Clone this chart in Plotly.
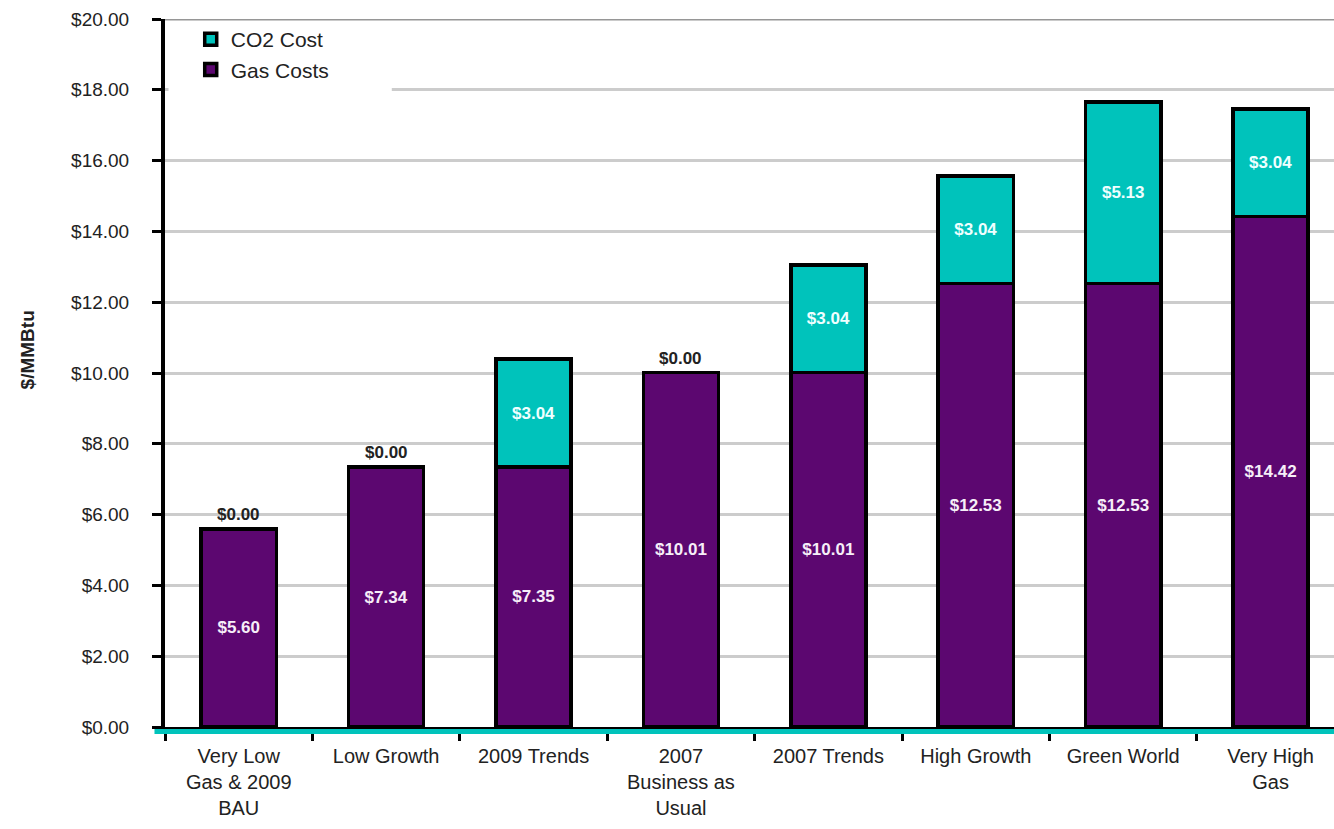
import plotly.graph_objects as go

# Scenario categories (multi-line tick labels)
categories = [
    "Very Low<br>Gas & 2009<br>BAU",
    "Low Growth",
    "2009 Trends",
    "2007<br>Business as<br>Usual",
    "2007 Trends",
    "High Growth",
    "Green World",
    "Very High<br>Gas",
]

# $/MMBtu components
gas_costs = [5.60, 7.34, 7.35, 10.01, 10.01, 12.53, 12.53, 14.42]
co2_costs = [0.00, 0.00, 3.04, 0.00, 3.04, 3.04, 5.13, 3.04]

y_ticks = [0, 2, 4, 6, 8, 10, 12, 14, 16, 18, 20]

PURPLE = "#5C0770"
TEAL = "#00C3BB"
FONT = "Liberation Sans"


def money(v):
    return f"${v:.2f}"


fig = go.Figure()

fig.add_trace(go.Bar(
    name="Gas Costs",
    x=categories,
    y=gas_costs,
    width=0.51,
    marker=dict(color=PURPLE, line=dict(color="black", width=3.5)),
    text=[money(v) for v in gas_costs],
    textposition="inside",
    insidetextanchor="middle",
    textangle=0,
    constraintext="none",
    textfont=dict(family=FONT, size=17, color="#F6EEF8", weight="bold"),
))

fig.add_trace(go.Bar(
    name="CO2 Cost",
    x=categories,
    y=co2_costs,
    width=0.51,
    marker=dict(color=TEAL, line=dict(color="black", width=3.5)),
    text=[money(v) if v > 0 else "" for v in co2_costs],
    textposition="inside",
    insidetextanchor="middle",
    textangle=0,
    constraintext="none",
    textfont=dict(family=FONT, size=17, color="#EFFFFF", weight="bold"),
))

# Zero CO2 cost shown above the bar
annotations = []
for cat, g, c in zip(categories, gas_costs, co2_costs):
    if c == 0:
        annotations.append(dict(
            x=cat, y=g + c, xref="x", yref="y",
            text=money(c), showarrow=False, yanchor="bottom", yshift=3,
            font=dict(family=FONT, size=17, color="#222222", weight="bold"),
        ))

# Vertical axis title
annotations.append(dict(
    x=-0.118, y=0.532, xref="paper", yref="paper", xanchor="center",
    text="$/MMBtu", textangle=-90, showarrow=False,
    font=dict(family=FONT, size=19, color="#222222", weight="bold"),
))

shapes = [
    # white panel behind the legend
    dict(type="rect", xref="paper", yref="y", x0=0.003, x1=0.194, y0=17.5, y1=19.75,
         fillcolor="white", line=dict(width=0), layer="above"),
    # darker top rule
    dict(type="line", xref="paper", yref="y", x0=0, x1=1, y0=20, y1=20,
         line=dict(color="#969696", width=3), layer="above"),
    # teal rule under the category axis
    dict(type="line", xref="paper", yref="paper", x0=-0.009, x1=1, y0=-0.0065, y1=-0.0065,
         line=dict(color=TEAL, width=5), layer="above"),
]

fig.update_layout(
    width=1334,
    height=829,
    barmode="stack",
    plot_bgcolor="white",
    paper_bgcolor="white",
    margin=dict(l=165, r=0, t=19, b=102),
    font=dict(family=FONT, color="#222222"),
    showlegend=True,
    legend=dict(
        x=0.022, y=1.0, xanchor="left", yanchor="top",
        traceorder="reversed",
        bgcolor="rgba(0,0,0,0)",
        font=dict(family=FONT, size=21, color="#222222"),
        tracegroupgap=2,
    ),
    xaxis=dict(
        range=[-0.5, 7.43],
        tickson="boundaries",
        ticks="outside",
        ticklen=10,
        tickwidth=3,
        tickcolor="black",
        showline=True,
        linecolor="black",
        linewidth=4,
        showgrid=False,
        tickfont=dict(family=FONT, size=20, color="#222222"),
        ticklabelstandoff=8,
    ),
    yaxis=dict(
        range=[0, 20],
        tickvals=y_ticks,
        ticktext=[money(v) for v in y_ticks],
        ticks="outside",
        ticklen=9,
        tickwidth=3,
        tickcolor="black",
        showline=True,
        linecolor="black",
        linewidth=4,
        showgrid=True,
        gridcolor="#CCCCCC",
        gridwidth=3,
        zeroline=False,
        tickfont=dict(family=FONT, size=19, color="#222222"),
        ticklabelstandoff=19,
    ),
    annotations=annotations,
    shapes=shapes,
)

fig.write_html("out.html")
